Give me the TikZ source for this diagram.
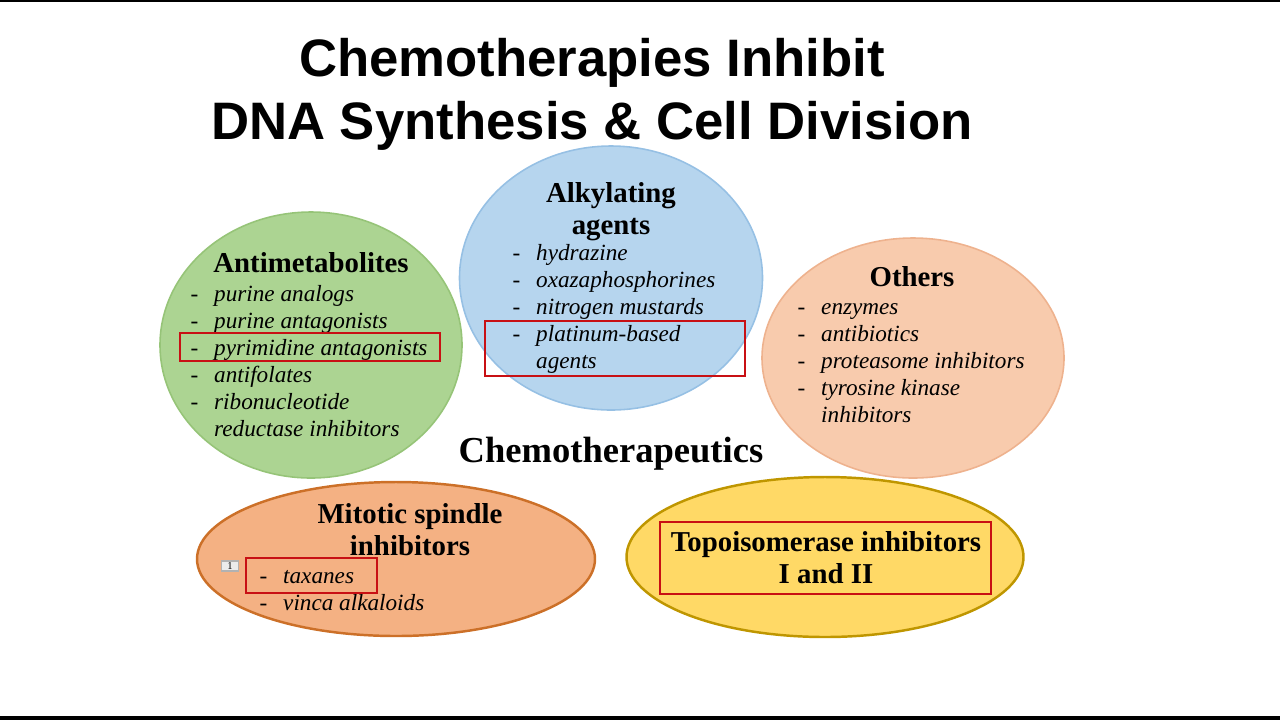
\documentclass[tikz,border=0pt]{standalone}
\usepackage{fontspec}
\setmainfont{Liberation Serif}
\newfontfamily\titlefont{Liberation Sans}
\usetikzlibrary{shapes.geometric}

\definecolor{greenfill}{RGB}{172,212,146}
\definecolor{greenline}{RGB}{150,196,120}
\definecolor{bluefill}{RGB}{182,213,238}
\definecolor{blueline}{RGB}{150,192,228}
\definecolor{peachfill}{RGB}{248,203,173}
\definecolor{peachline}{RGB}{238,178,142}
\definecolor{orangefill}{RGB}{244,177,131}
\definecolor{orangeline}{RGB}{204,112,40}
\definecolor{yellowfill}{RGB}{255,217,102}
\definecolor{yellowline}{RGB}{191,150,0}
\definecolor{boxred}{RGB}{200,16,20}

\newcommand{\dashitem}[1]{\makebox[2.35mm][l]{-}\textit{#1}}
\newcommand{\moreitem}[1]{\hspace*{2.35mm}\textit{#1}}

\begin{document}
\begin{tikzpicture}[x=0.1mm,y=-0.1mm]
      \tikzset{
        blob/.style={ellipse,draw,inner sep=0pt,line width=0.45pt},
        head/.style={font=\bfseries\fontsize{8.2}{9.1}\selectfont,align=center,inner sep=0pt,anchor=north},
        items/.style={font=\fontsize{6.6}{7.7}\selectfont,align=left,inner sep=0pt,anchor=north west},
        redbox/.style={draw=boxred,line width=0.7pt}
      }
      \useasboundingbox (0,0) rectangle (1280,720);
      \fill (0,0) rectangle (1280,2);
      \fill (0,716) rectangle (1280,720);

      % title
      \node[font=\titlefont\bfseries\fontsize{15}{17.9}\selectfont,align=center,inner sep=0pt,anchor=north]
        (title) at (592,32) {\strut Chemotherapies Inhibit\\DNA Synthesis \& Cell Division};

      % the five groups
      \node[blob,fill=greenfill,draw=greenline,minimum width=30.2mm,minimum height=26.6mm] (antimet) at (311,345) {};
      \node[blob,fill=bluefill,draw=blueline,minimum width=30.3mm,minimum height=26.4mm] (alkyl) at (611,278) {};
      \node[blob,fill=peachfill,draw=peachline,minimum width=30.2mm,minimum height=24mm] (others) at (913,358) {};
      \node[blob,fill=orangefill,draw=orangeline,line width=0.7pt,minimum width=39.8mm,minimum height=15.4mm] (mitotic) at (396,559) {};
      \node[blob,fill=yellowfill,draw=yellowline,line width=0.7pt,minimum width=39.7mm,minimum height=16mm] (topo) at (825,557) {};

      \node[head] (antimethead) at (311,249) {\strut Antimetabolites};
      \node[items] (antimetlist) at (190,282) {\strut\dashitem{purine analogs}\\
        \dashitem{purine antagonists}\\ \dashitem{pyrimidine antagonists}\\
        \dashitem{antifolates}\\ \dashitem{ribonucleotide}\\ \moreitem{reductase inhibitors}};

      \node[head] (alkylhead) at (611,179) {\strut Alkylating\\agents};
      \node[items] (alkyllist) at (512,241) {\strut\dashitem{hydrazine}\\
        \dashitem{oxazaphosphorines}\\ \dashitem{nitrogen mustards}\\
        \dashitem{platinum-based}\\ \moreitem{agents}};

      \node[head] (othershead) at (912,263) {\strut Others};
      \node[items] (otherslist) at (797,295) {\strut\dashitem{enzymes}\\
        \dashitem{antibiotics}\\ \dashitem{proteasome inhibitors}\\
        \dashitem{tyrosine kinase}\\ \moreitem{inhibitors}};

      \node[font=\bfseries\fontsize{10.4}{12}\selectfont,inner sep=0pt,anchor=base] (chemo) at (611,462) {Chemotherapeutics};

      \node[head] (mitotichead) at (410,500) {\strut Mitotic spindle\\inhibitors};
      \node[items] (mitoticlist) at (259,564) {\strut\dashitem{taxanes}\\ \dashitem{vinca alkaloids}};
      \node[draw=gray!60,fill=gray!15,font=\fontsize{3}{3}\selectfont,inner sep=0pt,
        minimum width=1.7mm,minimum height=1mm] (mark) at (230,566) {1};

      \node[head] (topohead) at (826,528) {\strut Topoisomerase inhibitors\\I and II};

      % highlights
      \draw[redbox] (180,333) rectangle (440,361);
      \draw[redbox] (485,321) rectangle (745,376);
      \draw[redbox] (246,558) rectangle (377,593);
      \draw[redbox] (660,522) rectangle (991,594);
\end{tikzpicture}
\end{document}
